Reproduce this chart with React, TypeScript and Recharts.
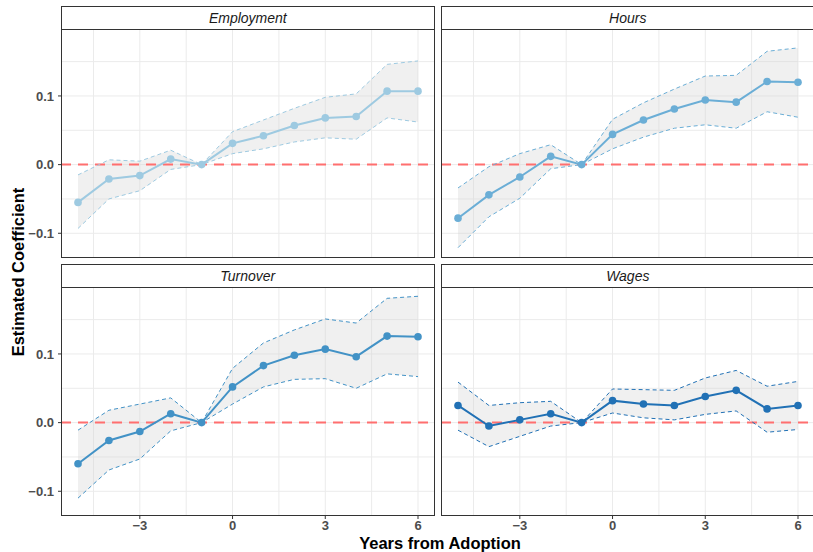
import React from "react";
import {
  Area,
  CartesianGrid,
  ComposedChart,
  Line,
  ReferenceLine,
  XAxis,
  YAxis,
} from "recharts";

// event-time grid (years relative to adoption)
const years = [-5, -4, -3, -2, -1, 0, 1, 2, 3, 4, 5, 6];

const employmentEst = [-0.055, -0.021, -0.016, 0.008, 0, 0.031, 0.042, 0.057, 0.068, 0.07, 0.107, 0.107];
const employmentLo = [-0.093, -0.05, -0.038, -0.007, 0, 0.016, 0.023, 0.033, 0.039, 0.037, 0.068, 0.062];
const employmentHi = [-0.015, 0.007, 0.005, 0.021, 0, 0.048, 0.065, 0.082, 0.098, 0.103, 0.146, 0.151];

const hoursEst = [-0.078, -0.044, -0.018, 0.012, 0, 0.044, 0.065, 0.081, 0.094, 0.091, 0.121, 0.12];
const hoursLo = [-0.121, -0.076, -0.049, -0.006, 0, 0.023, 0.04, 0.053, 0.058, 0.053, 0.077, 0.069];
const hoursHi = [-0.034, -0.003, 0.016, 0.029, 0, 0.066, 0.09, 0.11, 0.129, 0.13, 0.165, 0.17];

const turnoverEst = [-0.06, -0.026, -0.013, 0.013, 0, 0.052, 0.083, 0.098, 0.107, 0.096, 0.126, 0.125];
const turnoverLo = [-0.11, -0.069, -0.053, -0.012, 0, 0.027, 0.052, 0.063, 0.064, 0.05, 0.071, 0.067];
const turnoverHi = [-0.011, 0.018, 0.027, 0.036, 0, 0.079, 0.116, 0.135, 0.151, 0.145, 0.181, 0.184];

const wagesEst = [0.025, -0.005, 0.004, 0.013, 0, 0.032, 0.027, 0.025, 0.038, 0.047, 0.02, 0.025];
const wagesLo = [-0.011, -0.035, -0.02, -0.005, 0, 0.014, 0.007, 0.004, 0.012, 0.017, -0.014, -0.01];
const wagesHi = [0.059, 0.025, 0.029, 0.031, 0, 0.049, 0.048, 0.047, 0.065, 0.076, 0.053, 0.06];

const xTicks = [-3, 0, 3, 6];
const yTicks = [-0.1, 0, 0.1];
const xGrid = [-4.5, -3, -1.5, 0, 1.5, 3, 4.5, 6];
const yGrid = [-0.1, -0.05, 0, 0.05, 0.1, 0.15];

const X_DOMAIN = [-5.55, 6.55];
const Y_DOMAIN = [-0.136, 0.1975];

const PLOT_W = 374;
const PLOT_H = 229;
const STRIP_H = 23;
const Y_AXIS_W = 60;
const X_AXIS_H = 24;

const FONT = "'Liberation Sans', Arial, Helvetica, sans-serif";

type Row = { x: number; est: number; lo: number; hi: number; band: [number, number] };

function buildRows(est: number[], lo: number[], hi: number[]): Row[] {
  return years.map((x, i) => ({ x, est: est[i], lo: lo[i], hi: hi[i], band: [lo[i], hi[i]] }));
}

const minus = (v: number, digits: number) =>
  v < 0 ? "\u2212" + Math.abs(v).toFixed(digits) : v.toFixed(digits);

const tickStyle = { fill: "#4D4D4D", fontSize: 13, fontWeight: "bold", fontFamily: FONT };

type PanelProps = {
  title: string;
  color: string;
  rows: Row[];
  left: number;
  top: number;
  showX: boolean;
  showY: boolean;
};

function Panel({ title, color, rows, left, top, showX, showY }: PanelProps) {
  const chartLeft = left - (showY ? Y_AXIS_W : 0);
  const width = PLOT_W + (showY ? Y_AXIS_W : 0);
  const height = PLOT_H + (showX ? X_AXIS_H : 0);
  return (
    <>
      <div
        style={{
          position: "absolute",
          left,
          top: top - STRIP_H,
          width: PLOT_W,
          height: STRIP_H + 1,
          boxSizing: "border-box",
          border: "1px solid #333",
          background: "#fff",
          textAlign: "center",
          fontStyle: "italic",
          fontSize: 14,
          lineHeight: `${STRIP_H - 1}px`,
          color: "#1A1A1A",
        }}
      >
        {title}
      </div>
      <div style={{ position: "absolute", left: chartLeft, top }}>
        <ComposedChart
          width={width}
          height={height}
          data={rows}
          margin={{ top: 0, right: 0, bottom: 0, left: 0 }}
        >
          <CartesianGrid
            stroke="#EBEBEB"
            strokeWidth={1}
            horizontalValues={yGrid}
            verticalValues={xGrid}
          />
          <XAxis
            type="number"
            dataKey="x"
            domain={X_DOMAIN}
            ticks={xTicks}
            allowDataOverflow
            hide={!showX}
            height={X_AXIS_H}
            axisLine={false}
            tickLine={{ stroke: "#333" }}
            tickSize={3}
            tickMargin={2}
            tick={tickStyle}
            tickFormatter={(v: number) => minus(v, 0)}
          />
          <YAxis
            type="number"
            domain={Y_DOMAIN}
            ticks={yTicks}
            allowDataOverflow
            hide={!showY}
            width={Y_AXIS_W}
            axisLine={false}
            tickLine={{ stroke: "#333" }}
            tickSize={3}
            tickMargin={4}
            tick={tickStyle}
            tickFormatter={(v: number) => minus(v, 1)}
          />
          <Area
            type="linear"
            dataKey="band"
            stroke="none"
            fill="#d4d4d4"
            fillOpacity={0.35}
            isAnimationActive={false}
          />
          <ReferenceLine y={0} stroke="#ff6f6f" strokeWidth={2} strokeDasharray="10 7" />
          <Line
            type="linear"
            dataKey="lo"
            stroke={color}
            strokeWidth={1}
            strokeDasharray="4 3"
            dot={false}
            isAnimationActive={false}
          />
          <Line
            type="linear"
            dataKey="hi"
            stroke={color}
            strokeWidth={1}
            strokeDasharray="4 3"
            dot={false}
            isAnimationActive={false}
          />
          <Line
            type="linear"
            dataKey="est"
            stroke={color}
            strokeWidth={2}
            dot={{ r: 3.8, fill: color, stroke: color, strokeWidth: 0 }}
            isAnimationActive={false}
          />
        </ComposedChart>
      </div>
      <div
        style={{
          position: "absolute",
          left,
          top,
          width: PLOT_W,
          height: PLOT_H,
          boxSizing: "border-box",
          border: "1px solid #333",
          pointerEvents: "none",
        }}
      />
    </>
  );
}

export default function App() {
  const colLeft = [60.8, 440.8];
  const rowTop = [29, 287];
  return (
    <div
      style={{
        position: "absolute",
        left: 0,
        top: 0,
        width: 813,
        height: 552,
        overflow: "hidden",
        background: "#fff",
        fontFamily: FONT,
      }}
    >
      <Panel title="Employment" color="#9ECAE1" rows={buildRows(employmentEst, employmentLo, employmentHi)}
        left={colLeft[0]} top={rowTop[0]} showX={false} showY />
      <Panel title="Hours" color="#6BAED6" rows={buildRows(hoursEst, hoursLo, hoursHi)}
        left={colLeft[1]} top={rowTop[0]} showX={false} showY={false} />
      <Panel title="Turnover" color="#4292C6" rows={buildRows(turnoverEst, turnoverLo, turnoverHi)}
        left={colLeft[0]} top={rowTop[1]} showX showY />
      <Panel title="Wages" color="#2171B5" rows={buildRows(wagesEst, wagesLo, wagesHi)}
        left={colLeft[1]} top={rowTop[1]} showX showY={false} />
      <svg width={813} height={552} style={{ position: "absolute", left: 0, top: 0, pointerEvents: "none" }}>
        <text
          x={24}
          y={272}
          transform="rotate(-90 24 272)"
          textAnchor="middle"
          fontSize={16.5}
          fontWeight="bold"
          fill="#000"
          fontFamily={FONT}
        >
          Estimated Coefficient
        </text>
        <text x={440} y={548.5} textAnchor="middle" fontSize={16.5} fontWeight="bold" fill="#000" fontFamily={FONT}>
          Years from Adoption
        </text>
      </svg>
    </div>
  );
}
